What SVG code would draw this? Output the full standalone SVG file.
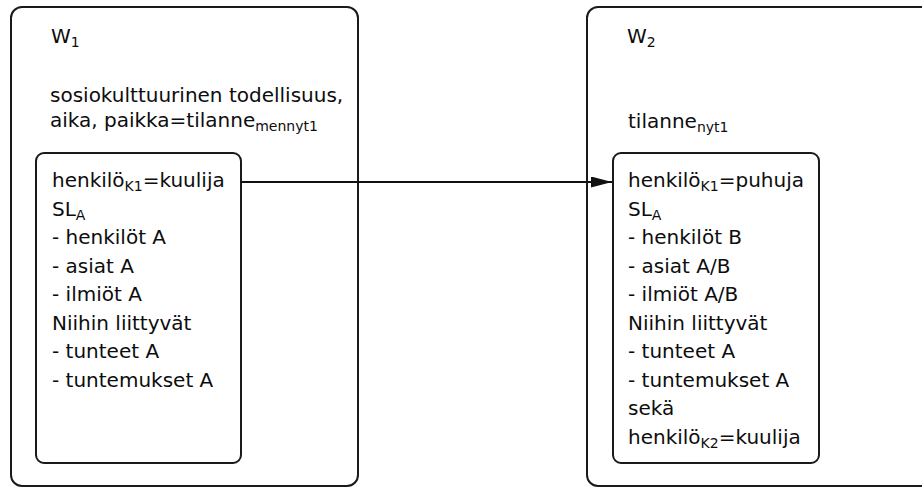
<svg xmlns="http://www.w3.org/2000/svg" width="922" height="488" viewBox="0 0 922 488">
  <style>
    .frame { fill: #ffffff; stroke: #1a1a1a; stroke-width: 2; }
    .card { fill: #ffffff; stroke: #1a1a1a; stroke-width: 2; }
    text { font-family: "DejaVu Sans", Verdana, sans-serif; font-size: 20px; fill: #0d0d0d; }
    .sub { font-size: 14px; }
    .link { fill: none; stroke: #111111; stroke-width: 2; }
  </style>
  <defs>
    <marker id="arrowhead" viewBox="0 0 21 11" refX="21" refY="5.5" markerWidth="21" markerHeight="11" markerUnits="userSpaceOnUse" orient="auto">
      <path d="M0,0 L21,5.5 L0,11 Z" fill="#111111"/>
    </marker>
  </defs>
  <rect x="0" y="0" width="922" height="488" fill="#ffffff"/>

  <!-- World 1 -->
  <g id="w1">
    <rect class="frame" x="11" y="7" width="347" height="479" rx="11" ry="11"/>
    <text x="51" y="43">W<tspan class="sub" dy="4">1</tspan></text>
    <text x="50" y="102">sosiokulttuurinen todellisuus,</text>
    <text x="50" y="127">aika, paikka=tilanne<tspan class="sub" dy="4">mennyt1</tspan></text>
  </g>

  <g id="w1-person">
    <rect class="card" x="36" y="153" width="205" height="310" rx="8" ry="8"/>
    <text x="52" y="187">henkilö<tspan class="sub" dy="4">K1</tspan><tspan dy="-4">=kuulija</tspan></text>
    <text x="52" y="215.5">SL<tspan class="sub" dy="4">A</tspan></text>
    <text x="52" y="244">- henkilöt A</text>
    <text x="52" y="272.5">- asiat A</text>
    <text x="52" y="301">- ilmiöt A</text>
    <text x="52" y="329.5">Niihin liittyvät</text>
    <text x="52" y="358">- tunteet A</text>
    <text x="52" y="386.5">- tuntemukset A</text>
  </g>

  <!-- World 2 -->
  <g id="w2">
    <rect class="frame" x="587" y="7" width="360" height="479" rx="11" ry="11"/>
    <text x="627" y="43">W<tspan class="sub" dy="4">2</tspan></text>
    <text x="628" y="128">tilanne<tspan class="sub" dy="4">nyt1</tspan></text>
  </g>

  <g id="w2-person">
    <rect class="card" x="613" y="153" width="206" height="310" rx="8" ry="8"/>
    <text x="628" y="187">henkilö<tspan class="sub" dy="4">K1</tspan><tspan dy="-4">=puhuja</tspan></text>
    <text x="628" y="215.5">SL<tspan class="sub" dy="4">A</tspan></text>
    <text x="628" y="244">- henkilöt B</text>
    <text x="628" y="272.5">- asiat A/B</text>
    <text x="628" y="301">- ilmiöt A/B</text>
    <text x="628" y="329.5">Niihin liittyvät</text>
    <text x="628" y="358">- tunteet A</text>
    <text x="628" y="386.5">- tuntemukset A</text>
    <text x="628" y="415">sekä</text>
    <text x="628" y="443.5">henkilö<tspan class="sub" dy="4">K2</tspan><tspan dy="-4">=kuulija</tspan></text>
  </g>

  <!-- Connectors -->
  <g id="connectors">
    <line class="link" x1="241" y1="182" x2="612" y2="182" marker-end="url(#arrowhead)"/>
  </g>
</svg>
